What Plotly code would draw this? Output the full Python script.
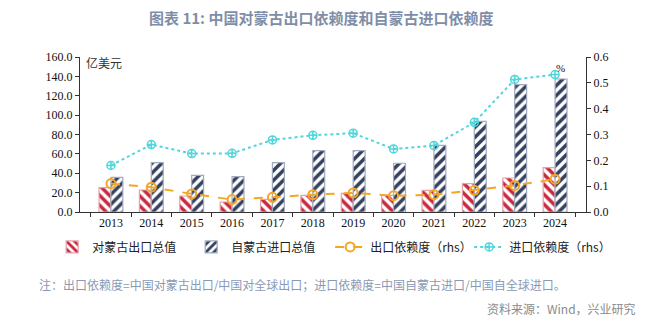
import plotly.graph_objects as go

years = ["2013", "2014", "2015", "2016", "2017", "2018",
         "2019", "2020", "2021", "2022", "2023", "2024"]
export_value = [25.2, 22.7, 16.5, 10.3, 13.1, 17.2, 19.3, 17.2, 22.4, 29.3, 35.1, 45.8]
import_value = [35.8, 51.0, 37.9, 36.5, 51.0, 63.3, 63.3, 50.3, 68.8, 93.6, 131.5, 137.3]
export_dep = [0.110, 0.096, 0.070, 0.048, 0.057, 0.067, 0.074, 0.063, 0.067, 0.084, 0.103, 0.127]
import_dep = [0.180, 0.261, 0.226, 0.227, 0.279, 0.297, 0.305, 0.244, 0.257, 0.347, 0.513, 0.532]

left_ticks = [0, 20, 40, 60, 80, 100, 120, 140, 160]
right_ticks = [0, 0.1, 0.2, 0.3, 0.4, 0.5, 0.6]

CJK = "Noto Sans CJK SC"
SERIF = "Liberation Serif"

fig = go.Figure()
fig.add_trace(go.Bar(
    x=years, y=export_value, name="对蒙古出口总值",
    marker=dict(color="#c8283f", line=dict(color="#e3a3ad", width=1.2),
                pattern=dict(shape="\\", fgcolor="#c8283f", bgcolor="white",
                             fgopacity=1, size=7, solidity=0.5)),
))
fig.add_trace(go.Bar(
    x=years, y=import_value, name="自蒙古进口总值",
    marker=dict(color="#34405e", line=dict(color="#a1aabd", width=1.2),
                pattern=dict(shape="/", fgcolor="#34405e", bgcolor="white",
                             fgopacity=1, size=7, solidity=0.5)),
))
fig.add_trace(go.Scatter(
    x=years, y=export_dep, name="出口依赖度（rhs）", yaxis="y2",
    mode="lines+markers",
    line=dict(color="#f5a623", width=2, dash="dash"),
    marker=dict(symbol="circle-open", size=9, color="#f5a623", line=dict(width=2)),
))
fig.add_trace(go.Scatter(
    x=years, y=import_dep, name="进口依赖度（rhs）", yaxis="y2",
    mode="lines+markers",
    line=dict(color="#4fd6dc", width=2, dash="dot"),
    marker=dict(symbol="circle-cross-open", size=8, color="#4fd6dc", line=dict(width=1.5)),
))

fig.update_layout(
    width=661, height=324,
    margin=dict(l=80, r=75, t=57, b=112),
    paper_bgcolor="white", plot_bgcolor="white",
    barmode="group", bargap=0.41, bargroupgap=0,
    showlegend=True,
    legend=dict(orientation="h", x=-0.055, xanchor="left", y=-0.225, yanchor="middle",
                font=dict(family=CJK, size=12, color="#222"),
                entrywidth=94, entrywidthmode="pixels",
                itemwidth=30, tracegroupgap=0, traceorder="normal"),
    xaxis=dict(type="category", showline=True, linecolor="#333", linewidth=1,
               ticks="outside", tickson="boundaries", ticklen=4, tickcolor="#333",
               tickfont=dict(family=SERIF, size=12, color="#111"),
               showgrid=False, zeroline=False),
    yaxis=dict(range=[0, 160], tickvals=left_ticks,
               ticktext=[f"{v:.1f}" for v in left_ticks],
               showline=True, linecolor="#333", linewidth=1,
               ticks="outside", ticklen=4, tickcolor="#333",
               tickfont=dict(family=SERIF, size=12, color="#111"),
               showgrid=False, zeroline=False),
    yaxis2=dict(range=[0, 0.6], tickvals=right_ticks,
                ticktext=[f"{v:.1f}" for v in right_ticks],
                overlaying="y", side="right",
                showline=True, linecolor="#333", linewidth=1,
                ticks="outside", ticklen=4, tickcolor="#333",
                tickfont=dict(family=SERIF, size=12, color="#111"),
                showgrid=False, zeroline=False),
    annotations=[
        dict(text="<b>图表 11: 中国对蒙古出口依赖度和自蒙古进口依赖度</b>",
             xref="paper", yref="paper", x=0.476, y=1.255,
             xanchor="center", yanchor="middle", showarrow=False,
             font=dict(family=CJK, size=15, color="#7f8ea8")),
        dict(text="亿美元", xref="paper", yref="paper", x=0.008, y=0.965,
             xanchor="left", yanchor="middle", showarrow=False,
             font=dict(family=CJK, size=12, color="#333")),
        dict(text="%", xref="paper", yref="paper", x=0.95, y=0.93,
             xanchor="center", yanchor="middle", showarrow=False,
             font=dict(family=SERIF, size=11, color="#111")),
        dict(text="注：出口依赖度=中国对蒙古出口/中国对全球出口；进口依赖度=中国自蒙古进口/中国自全球进口。",
             xref="paper", yref="paper", x=-0.085, y=-0.465,
             xanchor="left", yanchor="middle", showarrow=False,
             font=dict(family=CJK, size=12, color="#8a9ab5")),
        dict(text="资料来源：Wind，兴业研究",
             xref="paper", yref="paper", x=1.103, y=-0.62,
             xanchor="right", yanchor="middle", showarrow=False,
             font=dict(family=CJK, size=12, color="#8a8a8a")),
    ],
)

fig.write_html("out.html")
